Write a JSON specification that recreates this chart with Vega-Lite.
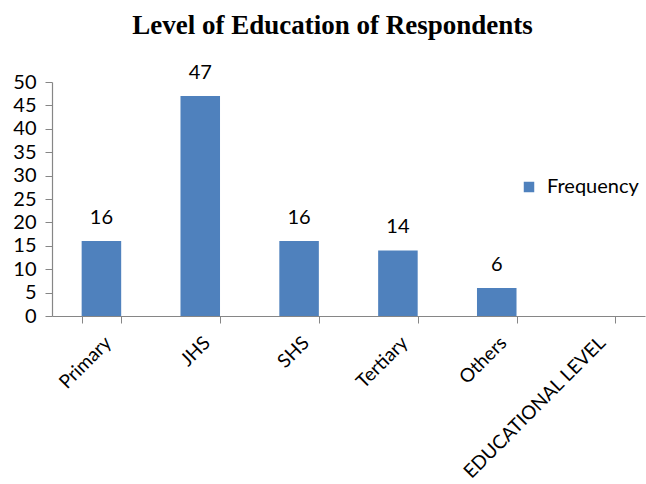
{
  "$schema": "https://vega.github.io/schema/vega-lite/v6.json",
  "width": 593,
  "height": 234,
  "autosize": "none",
  "padding": {"left": 52, "top": 82, "right": 1, "bottom": 168},
  "background": "white",
  "title": {
    "text": "Level of Education of Respondents",
    "font": "Liberation Serif",
    "fontSize": 27,
    "fontWeight": "bold",
    "color": "#000000",
    "anchor": "middle",
    "dx": -16,
    "offset": 23
  },
  "config": {
    "view": {"stroke": null},
    "axis": {
      "domainColor": "#868686",
      "tickColor": "#868686",
      "labelFont": "Lato",
      "labelColor": "#000000",
      "grid": false
    }
  },
  "data": {
    "values": [
      {"level": "Primary", "frequency": 16},
      {"level": "JHS", "frequency": 47},
      {"level": "SHS", "frequency": 16},
      {"level": "Tertiary", "frequency": 14},
      {"level": "Others", "frequency": 6},
      {"level": "EDUCATIONAL LEVEL", "frequency": null}
    ]
  },
  "encoding": {
    "x": {
      "field": "level",
      "type": "nominal",
      "sort": null,
      "scale": {
        "domain": ["Primary", "JHS", "SHS", "Tertiary", "Others", "EDUCATIONAL LEVEL"],
        "paddingInner": 0.6,
        "paddingOuter": 0.3
      },
      "axis": {
        "title": null,
        "labelAngle": -45,
        "labelFontSize": 19,
        "labelPadding": 10,
        "labelLimit": 400,
        "tickSize": 7,
        "tickBand": "extent",
        "domainWidth": 1.2
      }
    },
    "y": {
      "field": "frequency",
      "type": "quantitative",
      "scale": {"domain": [0, 50]},
      "axis": {
        "title": null,
        "values": [0, 5, 10, 15, 20, 25, 30, 35, 40, 45, 50],
        "labelFontSize": 20,
        "labelPadding": 9,
        "tickSize": 7,
        "domainWidth": 1.2
      }
    }
  },
  "layer": [
    {
      "mark": {"type": "bar", "color": "#4F81BD"},
      "encoding": {
        "color": {
          "datum": "Frequency",
          "scale": {"range": ["#4F81BD"]},
          "legend": {
            "title": null,
            "orient": "none",
            "legendX": 467,
            "legendY": 95,
            "symbolType": "square",
            "symbolSize": 110,
            "symbolStrokeWidth": 0,
            "labelFont": "Lato",
            "labelFontSize": 20,
            "labelColor": "#000000",
            "labelOffset": 8
          }
        }
      }
    },
    {
      "mark": {"type": "text", "baseline": "alphabetic", "dy": -17, "font": "Lato", "fontSize": 20, "color": "#000000"},
      "encoding": {
        "text": {"field": "frequency", "type": "quantitative"}
      }
    }
  ]
}
